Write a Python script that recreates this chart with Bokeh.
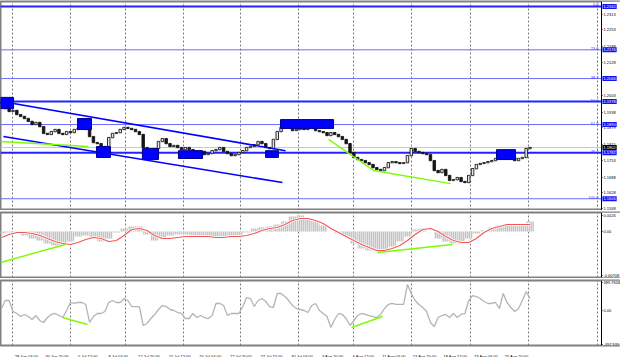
import numpy as np
from bokeh.plotting import figure
from bokeh.layouts import column
from bokeh.models import Range1d, FixedTicker, Span, Label, Grid, BoxAnnotation
from bokeh.embed import file_html
from bokeh.resources import INLINE

# ---------------- data ----------------
SAMPLE_STEP = 2  # H4 bars between sampled candles
closes = [1.1971, 1.1951, 1.1940, 1.1944, 1.1928, 1.1921, 1.1913, 1.1902, 1.1890, 1.1898,
          1.1882, 1.1856, 1.1852, 1.1863, 1.1871, 1.1856, 1.1852, 1.1863, 1.1859, 1.1871,
          1.1875, 1.1882, 1.1871, 1.1844, 1.1821, 1.1817, 1.1802, 1.1806, 1.1840, 1.1856,
          1.1859, 1.1871, 1.1879, 1.1875, 1.1871, 1.1863, 1.1852, 1.1802, 1.1787, 1.1794,
          1.1798, 1.1825, 1.1836, 1.1817, 1.1806, 1.1810, 1.1802, 1.1794, 1.1802, 1.1794,
          1.1783, 1.1790, 1.1787, 1.1775, 1.1779, 1.1790, 1.1794, 1.1802, 1.1787, 1.1779,
          1.1771, 1.1775, 1.1783, 1.1790, 1.1802, 1.1806, 1.1813, 1.1825, 1.1817, 1.1802,
          1.1798, 1.1833, 1.1863, 1.1879, 1.1890, 1.1882, 1.1867, 1.1871, 1.1875, 1.1871,
          1.1879, 1.1875, 1.1867, 1.1863, 1.1859, 1.1848, 1.1859, 1.1852, 1.1844, 1.1833,
          1.1817, 1.1783, 1.1764, 1.1756, 1.1752, 1.1744, 1.1737, 1.1725, 1.1718, 1.1714,
          1.1725, 1.1744, 1.1748, 1.1744, 1.1741, 1.1744, 1.1771, 1.1798, 1.1787, 1.1783,
          1.1779, 1.1775, 1.1752, 1.1714, 1.1706, 1.1718, 1.1695, 1.1676, 1.1679, 1.1687,
          1.1672, 1.1668, 1.1695, 1.1721, 1.1737, 1.1741, 1.1744, 1.1748, 1.1752, 1.1760,
          1.1767, 1.1779, 1.1771, 1.1764, 1.1752, 1.1760, 1.1764, 1.1798, 1.1802]

MACD_STEP = 4
macd_hist = [-0.00032, -0.00016, -0.00016, -0.00064, -0.00113, -0.00145, -0.00193, -0.00225, -0.00209, -0.00161,
             -0.00081, -0.00064, -0.00097, -0.00161, -0.00113, -0.00016, 0.00048, 0.00081, 0.00081, -0.00048,
             -0.00145, -0.00113, -0.00064, -0.00048, -0.00048, -0.00064, -0.00081, -0.00081, -0.00097, -0.00081,
             -0.00081, -0.00064, -0.00016, 0.00048, 0.00064, 0.00081, 0.00113, 0.00161, 0.00242, 0.00258,
             0.00209, 0.00161, 0.00097, 0.0, -0.00032, -0.00081, -0.00193, -0.00274, -0.00306, -0.00322,
             -0.00290, -0.00242, -0.00161, -0.00081, 0.00032, 0.00048, 0.0, -0.00113, -0.00161, -0.00193,
             -0.00193, -0.00113, -0.00032, 0.00016, 0.00064, 0.00097, 0.00113, 0.00097, 0.00097, 0.00161]
macd_signal = [-0.00097, -0.00048, -0.00016, -0.00016, -0.00032, -0.00064, -0.00113, -0.00161, -0.00193, -0.00209,
               -0.00177, -0.00129, -0.00097, -0.00113, -0.00161, -0.00145, -0.00064, 0.00032, 0.00048, 0.00016,
               -0.00064, -0.00113, -0.00113, -0.00097, -0.00081, -0.00081, -0.00081, -0.00081, -0.00097, -0.00097,
               -0.00081, -0.00081, -0.00064, -0.00032, 0.00016, 0.00048, 0.00064, 0.00113, 0.00177, 0.00209,
               0.00209, 0.00177, 0.00129, 0.00048, -0.00016, -0.00081, -0.00145, -0.00209, -0.00258, -0.00306,
               -0.00306, -0.00274, -0.00225, -0.00145, -0.00048, 0.00032, 0.00048, 0.0, -0.00081, -0.00145,
               -0.00177, -0.00177, -0.00113, -0.00016, 0.00048, 0.00081, 0.00113, 0.00113, 0.00113, 0.00113]

cci = [21, 134, 134, -21, -49, -92, -63, -92, -134, -78,
       -148, -176, -106, -63, -49, -78, -106, -7, 106, 92,
       106, 106, 78, -176, -92, -49, -49, -21, 106, 134,
       106, 106, 162, 134, 49, 49, 49, -219, -190, -120,
       -63, 7, 63, 49, 7, -7, -35, -49, -120, -120,
       -49, -106, -78, -106, -120, -78, 92, 92, 63, -78,
       -49, -49, -49, 49, 176, 162, 49, 134, 162, 120,
       49, 35, 233, 233, 190, 134, 63, 21, 7, -7,
       -35, 63, 92, -7, -49, -92, -247, -134, -49, -63,
       -120, -219, -148, -78, -49, -63, -78, -92, -106, -63,
       21, 78, 92, 78, 78, 78, 360, 233, 134, 78,
       35, -21, -176, -233, -106, -78, -63, -106, -49, -106,
       -63, -49, 134, 204, 190, 162, 120, 92, 92, 106,
       21, 233, 106, 35, -21, 21, 134, 261, 162]

fib_levels = ["0.0", "23.6", "38.2", "50.0", "61.8", "76.4", "100.0"]
fib_prices = [1.2342, 1.2176, 1.2066, 1.1978, 1.1890, 1.1782, 1.1606]
fib_bold = [True, False, False, True, False, True, False]

price_ticks = [1.2313, 1.2253, 1.2188, 1.2128, 1.2003, 1.1938, 1.1879, 1.1815, 1.1753, 1.1688, 1.1628, 1.1568]
macd_ticks = [0.0026, 0.0, -0.00708]
macd_tick_labels = ["0.0026", "0.00", "-0.00708"]
cci_ticks = [389.7658, 0.0, -490.0]
cci_tick_labels = ["389.7658", "0.00", "-497.939"]

time_labels = ["28 Jun 04:00", "30 Jun 20:00", "5 Jul 12:00", "8 Jul 04:00", "12 Jul 20:00",
               "15 Jul 12:00", "20 Jul 04:00", "22 Jul 20:00", "27 Jul 12:00", "30 Jul 04:00",
               "3 Aug 20:00", "6 Aug 12:00", "11 Aug 04:00", "13 Aug 20:00", "18 Aug 12:00",
               "23 Aug 04:00", "25 Aug 20:00"]
time_label_bars = [6, 22, 38, 54, 70, 86, 102, 118, 134, 150, 166, 182, 198, 214, 230, 246, 262]
grid_bars = [6, 36, 65, 95, 125, 155, 184, 214, 245, 275, 311]

# support / resistance zones (bar index, price)
box_left = [-0.5, 39.7, 49.6, 73.6, 92.4, 137.9, 145.7, 258.5]
box_right = [6.3, 47.0, 56.9, 82.0, 105.0, 144.6, 173.4, 268.4]
box_top = [1.1994, 1.1913, 1.1806, 1.1798, 1.1790, 1.1790, 1.1909, 1.1794]
box_bottom = [1.1951, 1.1871, 1.1764, 1.1756, 1.1760, 1.1764, 1.1875, 1.1756]

channel_upper_x = [-0.5, 148.3]
channel_upper_y = [1.1979, 1.1790]
channel_lower_x = [1.0, 146.7]
channel_lower_y = [1.1844, 1.1668]

price_div1_x = [-0.5, 45.4]
price_div1_y = [1.1825, 1.1806]
price_div2_x = [170.8, 194.3, 234.5]
price_div2_y = [1.1833, 1.1714, 1.1664]
macd_div1_x = [-0.5, 33.4]
macd_div1_y = [-0.00499, -0.00209]
macd_div2_x = [196.3, 235.5]
macd_div2_y = [-0.00338, -0.00209]
cci_div1_x = [31.9, 44.9]
cci_div1_y = [-106, -204]
cci_div2_x = [182.8, 199.0]
cci_div2_y = [-247, -92]

# ---------------- styling ----------------
FONT = "Liberation Sans"
FS = "4px"
GREEN = "#7CFC00"
X_START = -0.52
AXIS_X = 313.3          # where the price scale sits (bar units)
X_END = 323.25          # right edge of the window (bar units)
x_range = Range1d(X_START, X_END)


def make_fig(frame_h, y_range, top_b, bottom_b, x_axis=None):
    p = figure(frame_width=620, frame_height=frame_h, x_range=x_range, y_range=y_range,
               output_backend="svg", toolbar_location=None,
               y_axis_location="right", x_axis_location=x_axis,
               min_border_left=0, min_border_right=0,
               min_border_top=top_b, min_border_bottom=bottom_b)
    p.outline_line_color = "#808080"
    p.outline_line_width = 2
    p.background_fill_color = "white"
    p.border_fill_color = "white"
    p.grid.visible = False
    g = Grid(dimension=0, ticker=FixedTicker(ticks=grid_bars),
             grid_line_color="#7a7a7a", grid_line_dash="2 2", grid_line_width=1)
    p.add_layout(g)
    ax = p.yaxis[0]
    ax.fixed_location = AXIS_X
    ax.major_label_text_font = FONT
    ax.major_label_text_font_size = FS
    ax.major_label_text_color = "black"
    ax.major_tick_out = 1
    ax.major_tick_in = 0
    ax.minor_tick_line_color = None
    ax.major_label_standoff = 1
    ax.axis_line_color = "black"
    return p


def cover_scale_area(p):
    p.add_layout(BoxAnnotation(left=AXIS_X, fill_color="white", fill_alpha=1.0,
                               line_color=None, level="underlay"))


# ---------------- price panel ----------------
p1 = make_fig(209, Range1d(1.1561, 1.2361), 1, 0)
p1.yaxis.ticker = FixedTicker(ticks=price_ticks)
p1.yaxis.major_label_overrides = {t: f"{t:.4f}" for t in price_ticks}

for lvl, pr, bold in zip(fib_levels, fib_prices, fib_bold):
    p1.add_layout(Span(location=pr, dimension="width", level="underlay",
                       line_color="#2323FF" if bold else "#6A6AFF",
                       line_width=2 if bold else 1))
    p1.add_layout(Label(x=AXIS_X - 1.5, y=pr, text=lvl, text_align="right",
                        text_baseline="bottom", text_font=FONT, text_font_size=FS,
                        text_color="#3535FF"))

last_close = closes[-1]
p1.add_layout(Span(location=last_close, dimension="width", level="underlay",
                   line_color="#c8c8c8", line_width=1))
cover_scale_area(p1)

cx = np.arange(len(closes)) * SAMPLE_STEP
cl = np.array(closes)
op = np.r_[cl[0] + 0.0004, cl[:-1]]
up = cl >= op
body_top = np.maximum(op, cl)
body_bot = np.minimum(op, cl)
p1.vbar(x=cx[up], top=body_top[up] + 0.00006, bottom=body_bot[up] - 0.00006, width=1.3,
        fill_color="#e8e8e8", line_color="#151515", line_width=0.9)
p1.vbar(x=cx[~up], top=body_top[~up] + 0.00006, bottom=body_bot[~up] - 0.00006, width=1.3,
        fill_color="#151515", line_color="#151515", line_width=0.9)

p1.quad(left=box_left, right=box_right, top=box_top, bottom=box_bottom,
        fill_color="#0000FF", line_color="#00008B", line_width=1)

p1.line(channel_upper_x, channel_upper_y, line_color="#0000FF", line_width=1.6)
p1.line(channel_lower_x, channel_lower_y, line_color="#0000FF", line_width=1.6)
p1.line(price_div1_x, price_div1_y, line_color=GREEN, line_width=1.4)
p1.line(price_div2_x, price_div2_y, line_color=GREEN, line_width=1.4)

# price tags on the scale
for pr in fib_prices:
    p1.add_layout(Label(x=AXIS_X, x_offset=1, y=pr, text=f"{pr:.4f}", text_align="left",
                        text_baseline="middle", text_font=FONT, text_font_size=FS,
                        text_color="white", background_fill_color="#1414F0",
                        padding=1))
p1.add_layout(Label(x=AXIS_X, x_offset=1, y=last_close, text=f"{last_close:.4f}",
                    text_align="left", text_baseline="middle", text_font=FONT,
                    text_font_size=FS, text_color="white", background_fill_color="black",
                    padding=1))

# ---------------- MACD panel ----------------
p2 = make_fig(65, Range1d(-0.00741, 0.00306), 2, 1)
p2.yaxis.ticker = FixedTicker(ticks=macd_ticks)
p2.yaxis.major_label_overrides = dict(zip(macd_ticks, macd_tick_labels))
cover_scale_area(p2)
mx = np.arange(len(macd_hist)) * MACD_STEP
p2.vbar(x=mx, top=np.maximum(macd_hist, 0), bottom=np.minimum(macd_hist, 0), width=MACD_STEP,
        fill_color="#e2e2e2", fill_alpha=1.0, line_alpha=0.0,
        hatch_pattern="vertical_line", hatch_color="#a4a4a4", hatch_scale=2.0, hatch_weight=1.0)
p2.line(mx, macd_signal, line_color="white", line_width=2.6)
p2.line(mx, macd_signal, line_color="#F25555", line_width=1.1)
p2.line(macd_div1_x, macd_div1_y, line_color=GREEN, line_width=1.4)
p2.line(macd_div2_x, macd_div2_y, line_color=GREEN, line_width=1.4)

# ---------------- CCI panel ----------------
p3 = make_fig(65, Range1d(-500.6, 416), 2, 12, x_axis="below")
p3.yaxis.ticker = FixedTicker(ticks=cci_ticks)
p3.yaxis.major_label_overrides = dict(zip(cci_ticks, cci_tick_labels))
cover_scale_area(p3)
xa = p3.xaxis[0]
tick_pos = [b + 7 for b in time_label_bars]
xa.ticker = FixedTicker(ticks=tick_pos)
xa.major_label_overrides = dict(zip(tick_pos, time_labels))
xa.major_label_text_font = FONT
xa.major_label_text_font_size = FS
xa.major_label_text_color = "black"
xa.major_tick_line_color = None
xa.minor_tick_line_color = None
xa.axis_line_color = None
xa.major_label_standoff = 2

ccx = np.arange(len(cci)) * SAMPLE_STEP
p3.line(ccx, cci, line_color="#b4b4b4", line_width=1.3)
p3.line(cci_div1_x, cci_div1_y, line_color=GREEN, line_width=1.4)
p3.line(cci_div2_x, cci_div2_y, line_color=GREEN, line_width=1.4)

layout = column(p1, p2, p3, spacing=0)
open("out.html", "w").write(file_html(layout, INLINE))
